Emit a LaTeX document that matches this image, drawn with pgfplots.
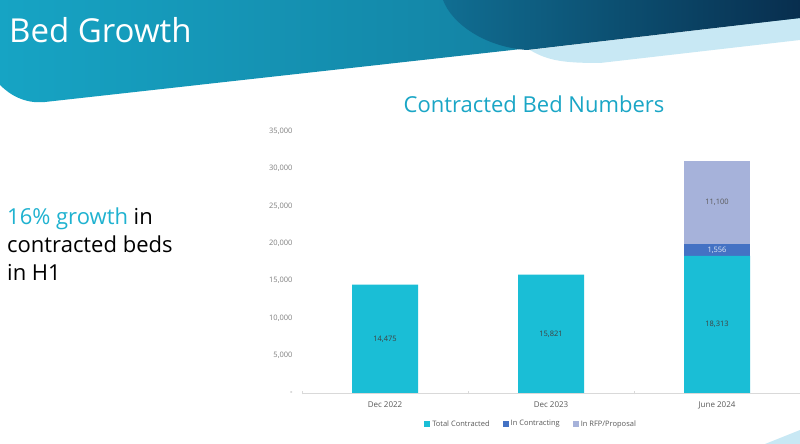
\documentclass[border=0pt]{standalone}
\usepackage{pgfplots}
\pgfplotsset{compat=1.18}
\usepackage{pgfplotstable}
\usepackage{fontspec}
\setmainfont{Open Sans}
\definecolor{cTot}{RGB}{26,190,214}
\definecolor{cCon}{RGB}{68,114,196}
\definecolor{cRfp}{RGB}{166,178,218}
\definecolor{hdrA}{RGB}{22,164,196}
\definecolor{hdrB}{RGB}{18,112,146}
\definecolor{darkA}{RGB}{16,110,146}
\definecolor{darkB}{RGB}{8,46,78}
\definecolor{lightband}{RGB}{200,232,244}
\definecolor{titlecyan}{RGB}{26,166,198}
\definecolor{growcyan}{RGB}{31,178,208}
\definecolor{ticklab}{RGB}{127,127,127}
\definecolor{catlab}{RGB}{89,89,89}
\definecolor{axisgray}{RGB}{217,217,217}
\definecolor{barlab}{RGB}{64,64,64}

% bar values
\pgfplotstableread{
x y
0 14475
1 15821
2 18313
}\totcontracted
\pgfplotstableread{
x y
0 0
1 0
2 1556
}\incontracting
\pgfplotstableread{
x y
0 0
1 0
2 11100
}\inrfp
% value labels, placed at the middle of each segment
\pgfplotstableread{
x ymid lab
0 7237.5 14,475
1 7910.5 15,821
2 9156.5 18,313
}\labtot
\pgfplotstableread{
x ymid lab
2 19091 1,556
}\labcon
\pgfplotstableread{
x ymid lab
2 25419 11,100
}\labrfp

\pgfplotsset{
  commonaxis/.style={
    at={(302pt,51pt)}, anchor=south west,
    scale only axis, width=498pt, height=262pt,
    xmin=-0.5, xmax=2.5, ymin=0, ymax=35000,
  },
}

\begin{document}
\begin{tikzpicture}[x=1pt,y=1pt]
\clip (0,0) rectangle (800,444);
\fill[white] (0,0) rectangle (800,444);
% light band below the header
\fill[lightband] (530,394) .. controls (548,383) and (565,381) .. (600,381) -- (800,404) -- (800,426) -- cycle;
% main header
\shade[left color=hdrA, right color=hdrB] (0,444) -- (800,444) -- (800,426) -- (45,342) .. controls (25,340) and (10,349) .. (0,359) -- cycle;
% dark circle part
\shade[left color=darkA, right color=darkB] (443,444) .. controls (452,420) and (485,397) .. (527,394) -- (800,426) -- (800,444) -- cycle;
% bottom right swoosh
\fill[lightband] (765,0) .. controls (780,6) and (790,10) .. (800,14) -- (800,0) -- cycle;

\node[anchor=base west, text=white, font=\fontsize{33}{40}\selectfont, inner sep=0pt] at (9,401) {Bed Growth};
\node[anchor=base, text=titlecyan, font=\fontsize{22}{26}\selectfont, inner sep=0pt] at (534,331) {Contracted Bed Numbers};

\node[anchor=base west, font=\fontsize{22}{26}\selectfont, inner sep=0pt] at (7,219) {\textcolor{growcyan}{16\% growth} in};
\node[anchor=base west, font=\fontsize{22}{26}\selectfont, inner sep=0pt] at (7,191) {contracted beds};
\node[anchor=base west, font=\fontsize{22}{26}\selectfont, inner sep=0pt] at (7,163) {in H1};

\begin{axis}[
  commonaxis,
  ybar stacked, bar width=66pt,
  xtick={0,1,2}, xticklabels={Dec 2022,Dec 2023,June 2024},
  ytick={0,5000,...,35000}, scaled y ticks=false,
  yticklabels={-,{5,000},{10,000},{15,000},{20,000},{25,000},{30,000},{35,000}},
  minor xtick={-0.5,0.5,1.5,2.5},
  major tick length=0pt, minor tick length=3pt, tick align=outside,
  minor tick style={draw=axisgray},
  axis lines=left, axis line style={-, draw=axisgray},
  y axis line style={draw=none},
  xticklabel style={font=\fontsize{8}{9}\selectfont, text=catlab, yshift=-5pt},
  yticklabel style={font=\fontsize{7.5}{9}\selectfont, text=ticklab, xshift=-6pt},
  legend columns=3,
  legend style={at={(0.46,-0.118)}, anchor=center, draw=none, fill=none,
    font=\fontsize{7.5}{9}\selectfont, text=catlab,
    /tikz/every even column/.append style={column sep=11pt}},
  legend image code/.code={\fill[#1] (0pt,-3pt) rectangle (6pt,3pt);},
]
\addplot[fill=cTot, draw=none] table[x=x, y=y] {\totcontracted};
\addlegendentry{Total Contracted}
\addplot[fill=cCon, draw=none] table[x=x, y=y] {\incontracting};
\addlegendentry{In Contracting}
\addplot[fill=cRfp, draw=none] table[x=x, y=y] {\inrfp};
\addlegendentry{In RFP/Proposal}
\end{axis}

\begin{axis}[
  commonaxis, hide axis,
  point meta=explicit symbolic,
  nodes near coords,
  every node near coord/.style={anchor=center, font=\fontsize{7.5}{9}\selectfont, inner sep=0pt},
]
\addplot[only marks, mark=none, every node near coord/.append style={text=barlab}] table[x=x, y=ymid, meta=lab] {\labtot};
\addplot[only marks, mark=none, every node near coord/.append style={text=white!85!cCon}] table[x=x, y=ymid, meta=lab] {\labcon};
\addplot[only marks, mark=none, every node near coord/.append style={text=catlab}] table[x=x, y=ymid, meta=lab] {\labrfp};
\end{axis}
\end{tikzpicture}
\end{document}
